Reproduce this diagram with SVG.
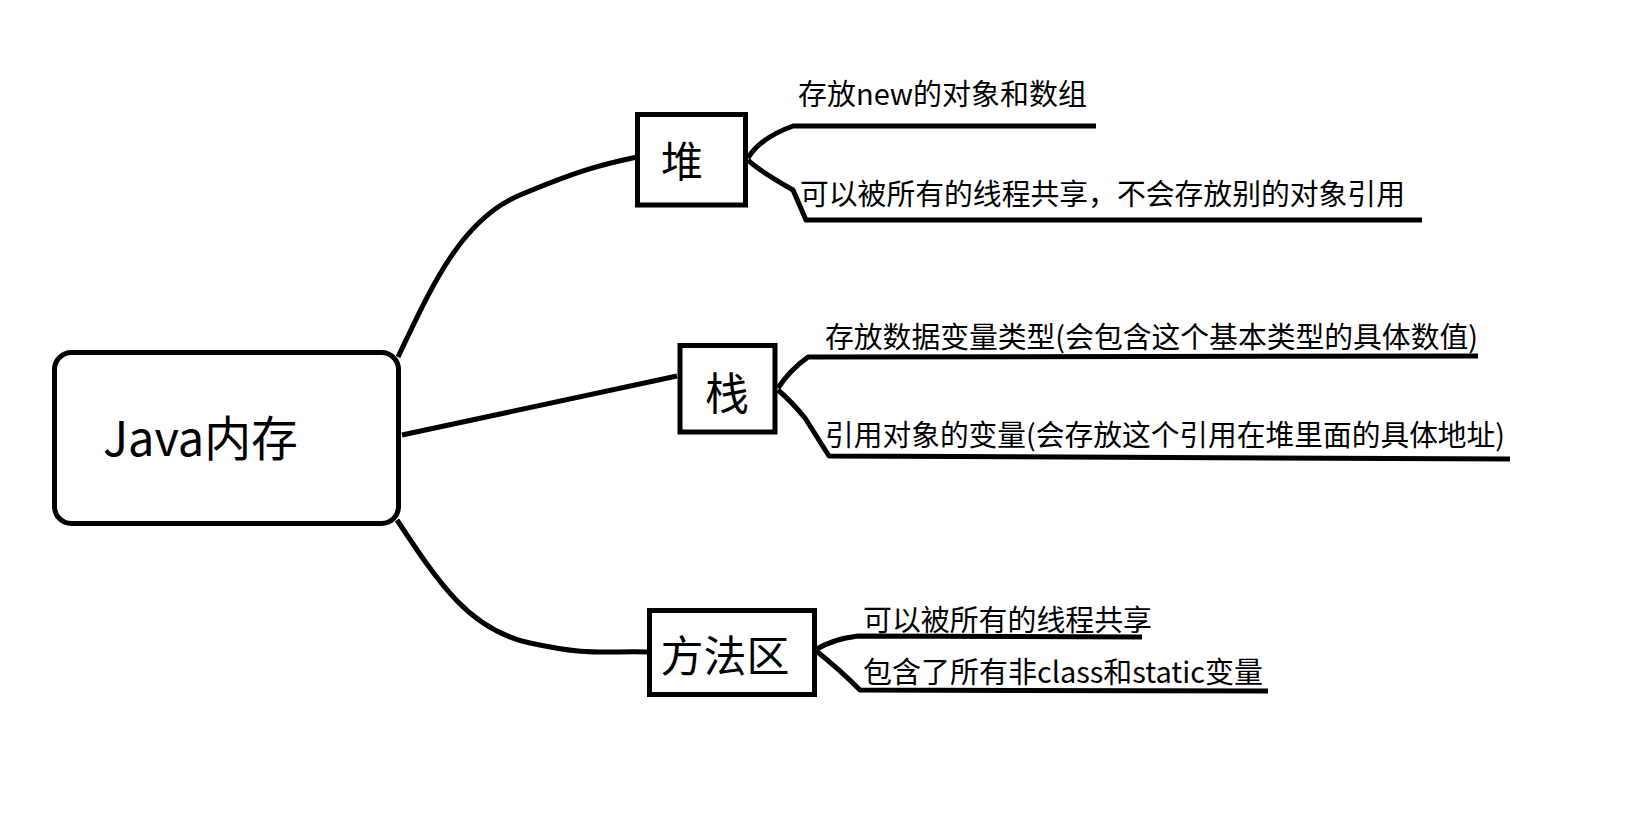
<svg xmlns="http://www.w3.org/2000/svg" width="1645" height="836" viewBox="0 0 1645 836">
<style>
.box{fill:#fff;stroke:#000;stroke-width:5}
.ln{fill:none;stroke:#000;stroke-width:5;stroke-linejoin:round}
.t{font-family:"Microsoft YaHei","Noto Sans CJK SC","Noto Sans",sans-serif;fill:#000}
.s{font-size:29px}
</style>
<rect width="1645" height="836" fill="#fff"/>
<g id="connectors">
<path class="ln" d="M398,357 C430,290 460,220 520,195 S600,165 637,157"/>
<path class="ln" d="M402,435 L677,376"/>
<path class="ln" d="M397,520 C440,585 470,630 530,643 S600,651 648,652"/>
<path class="ln" d="M748,158 Q760,138 793,126 L1096,126"/>
<path class="ln" d="M748,160 Q758,170 793,190 L806,220 L1422,220"/>
<path class="ln" d="M778,388 Q790,370 808,357 L1478,356"/>
<path class="ln" d="M778,390 Q792,402 805,418 L829,456 L1510,459"/>
<path class="ln" d="M815,650 Q833,639 858,636 L1142,637"/>
<path class="ln" d="M815,650 Q838,668 860,690 L1268,691"/>
</g>
<g id="node-java">
<rect class="box" x="54.5" y="352.5" width="344" height="171" rx="17"/>
<text class="t" x="103" y="456" font-size="48" textLength="195" lengthAdjust="spacingAndGlyphs">Java内存</text>
</g>
<g id="node-heap">
<rect class="box" x="637.5" y="114.5" width="108" height="90.5"/>
<text class="t" x="682" y="177" font-size="42" text-anchor="middle">堆</text>
<text class="t s" x="798" y="105" textLength="289" lengthAdjust="spacingAndGlyphs">存放new的对象和数组</text>
<text class="t s" x="800" y="205" textLength="605" lengthAdjust="spacingAndGlyphs">可以被所有的线程共享，不会存放别的对象引用</text>
</g>
<g id="node-stack">
<rect class="box" x="680" y="345.5" width="95" height="86.5"/>
<text class="t" x="727" y="410" font-size="44" text-anchor="middle">栈</text>
<text class="t s" x="825" y="348" textLength="653" lengthAdjust="spacingAndGlyphs">存放数据变量类型(会包含这个基本类型的具体数值)</text>
<text class="t s" x="825" y="446" textLength="680" lengthAdjust="spacingAndGlyphs">引用对象的变量(会存放这个引用在堆里面的具体地址)</text>
</g>
<g id="node-method">
<rect class="box" x="649.5" y="610.5" width="165" height="84"/>
<text class="t" x="725" y="672" font-size="43" text-anchor="middle">方法区</text>
<text class="t s" x="863" y="631" textLength="289" lengthAdjust="spacingAndGlyphs">可以被所有的线程共享</text>
<text class="t s" x="863" y="683" textLength="400" lengthAdjust="spacingAndGlyphs">包含了所有非class和static变量</text>
</g>
</svg>
